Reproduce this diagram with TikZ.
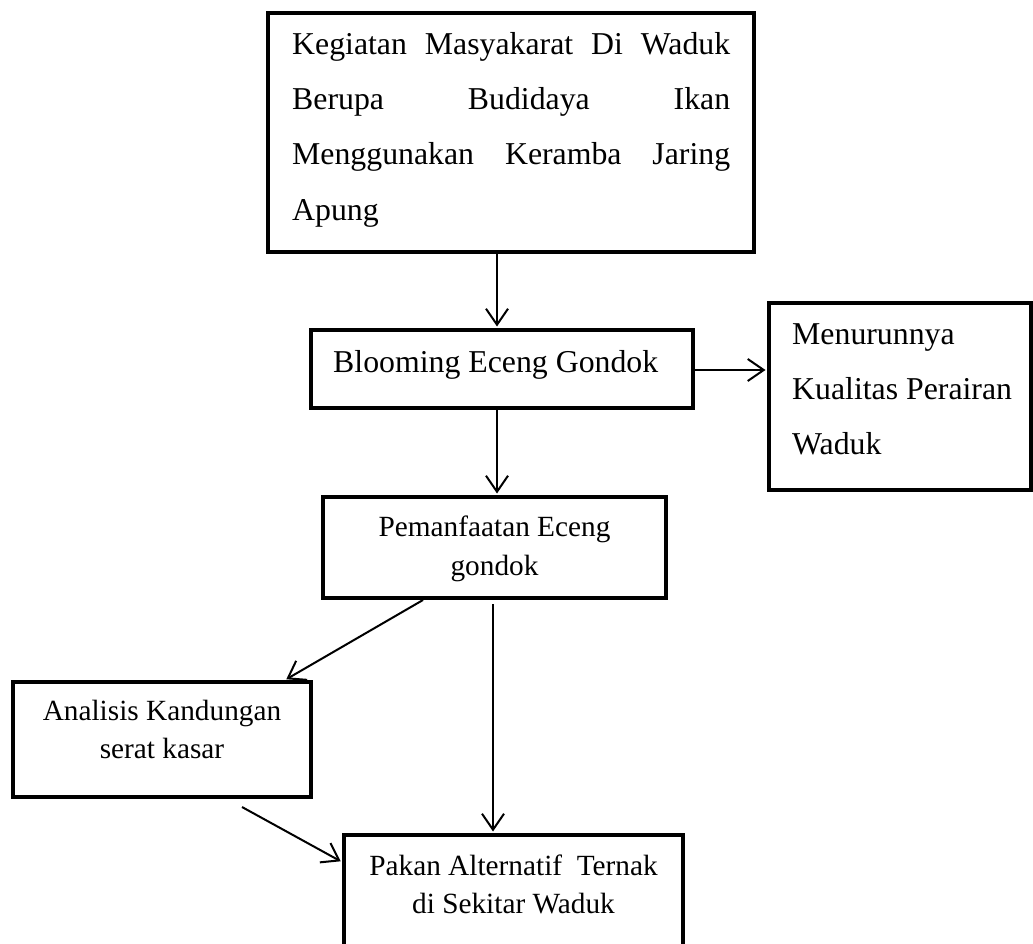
\documentclass[tikz,border=0pt]{standalone}
\usepackage{fontspec}
\setmainfont{Liberation Serif}
\usetikzlibrary{arrows.meta}
\begin{document}
\begin{tikzpicture}[x=1pt,y=-1pt,
  box/.style={draw, line width=4pt, inner sep=0pt, rectangle},
  conn/.style={line width=2pt, shorten >=1.5pt, -{Straight Barb[length=16pt,width=22pt,line width=2pt]}},
  big/.style={font=\fontsize{31.8pt}{55pt}\selectfont, inner sep=0pt},
  small/.style={font=\fontsize{29.3pt}{38pt}\selectfont, inner sep=0pt}]
\useasboundingbox (0,0) rectangle (1033,944);

% boxes
\node[box, minimum width=486pt, minimum height=239pt] (b1) at (511,132.5) {};
\node[box, minimum width=382pt, minimum height=78pt] (b2) at (502,369) {};
\node[box, minimum width=262pt, minimum height=187pt] (b3) at (900,396.5) {};
\node[box, minimum width=343pt, minimum height=101pt] (b4) at (494.5,547.5) {};
\node[box, minimum width=298pt, minimum height=115pt] (b5) at (162,739.5) {};
\node[box, minimum width=339pt, minimum height=120pt] (b6) at (513.5,895) {};

% texts
\node[big, anchor=base west] (t1a) at (292,55) {\makebox[438pt][s]{Kegiatan Masyakarat Di Waduk}};
\node[big, anchor=base west] (t1b) at (292,110) {\makebox[438pt][s]{Berupa Budidaya Ikan}};
\node[big, anchor=base west] (t1c) at (292,165) {\makebox[438pt][s]{Menggunakan Keramba Jaring}};
\node[big, anchor=base west] (t1d) at (292,220) {Apung};

\node[big, anchor=base west] (t2) at (333,372) {Blooming Eceng Gondok};

\node[big, anchor=base west] (t3a) at (792,344) {Menurunnya};
\node[big, anchor=base west] (t3b) at (792,399) {Kualitas Perairan};
\node[big, anchor=base west] (t3c) at (792,454) {Waduk};

\node[small, anchor=base] (t4a) at (494.5,536) {Pemanfaatan Eceng};
\node[small, anchor=base] (t4b) at (494.5,575) {gondok};

\node[small, anchor=base] (t5a) at (162,720) {Analisis Kandungan};
\node[small, anchor=base] (t5b) at (162,758) {serat kasar};

\node[small, anchor=base] (t6a) at (513.5,875) {Pakan Alternatif~ Ternak};
\node[small, anchor=base] (t6b) at (513.5,913) {di Sekitar Waduk};

% connector helper coordinates
\coordinate (x1) at (497,0);
\coordinate (y3) at (0,370);
\coordinate (x4s) at (423,0);
\coordinate (x4e) at (285,0);
\coordinate (a5s) at (493,604);
\coordinate (a6s) at (242,807);
\coordinate (y6e) at (0,862);

% connectors
\draw[conn] (b1.south -| x1) -- (b2.north -| x1);
\draw[conn] (b2.south -| x1) -- (b4.north -| x1);
\draw[conn] (b2.east |- y3) -- (b3.west |- y3);
\draw[conn] (b4.south -| x4s) -- (b5.north -| x4e);
\draw[conn] (a5s) -- (b6.north -| a5s);
\draw[conn] (a6s) -- (b6.west |- y6e);
\end{tikzpicture}
\end{document}
